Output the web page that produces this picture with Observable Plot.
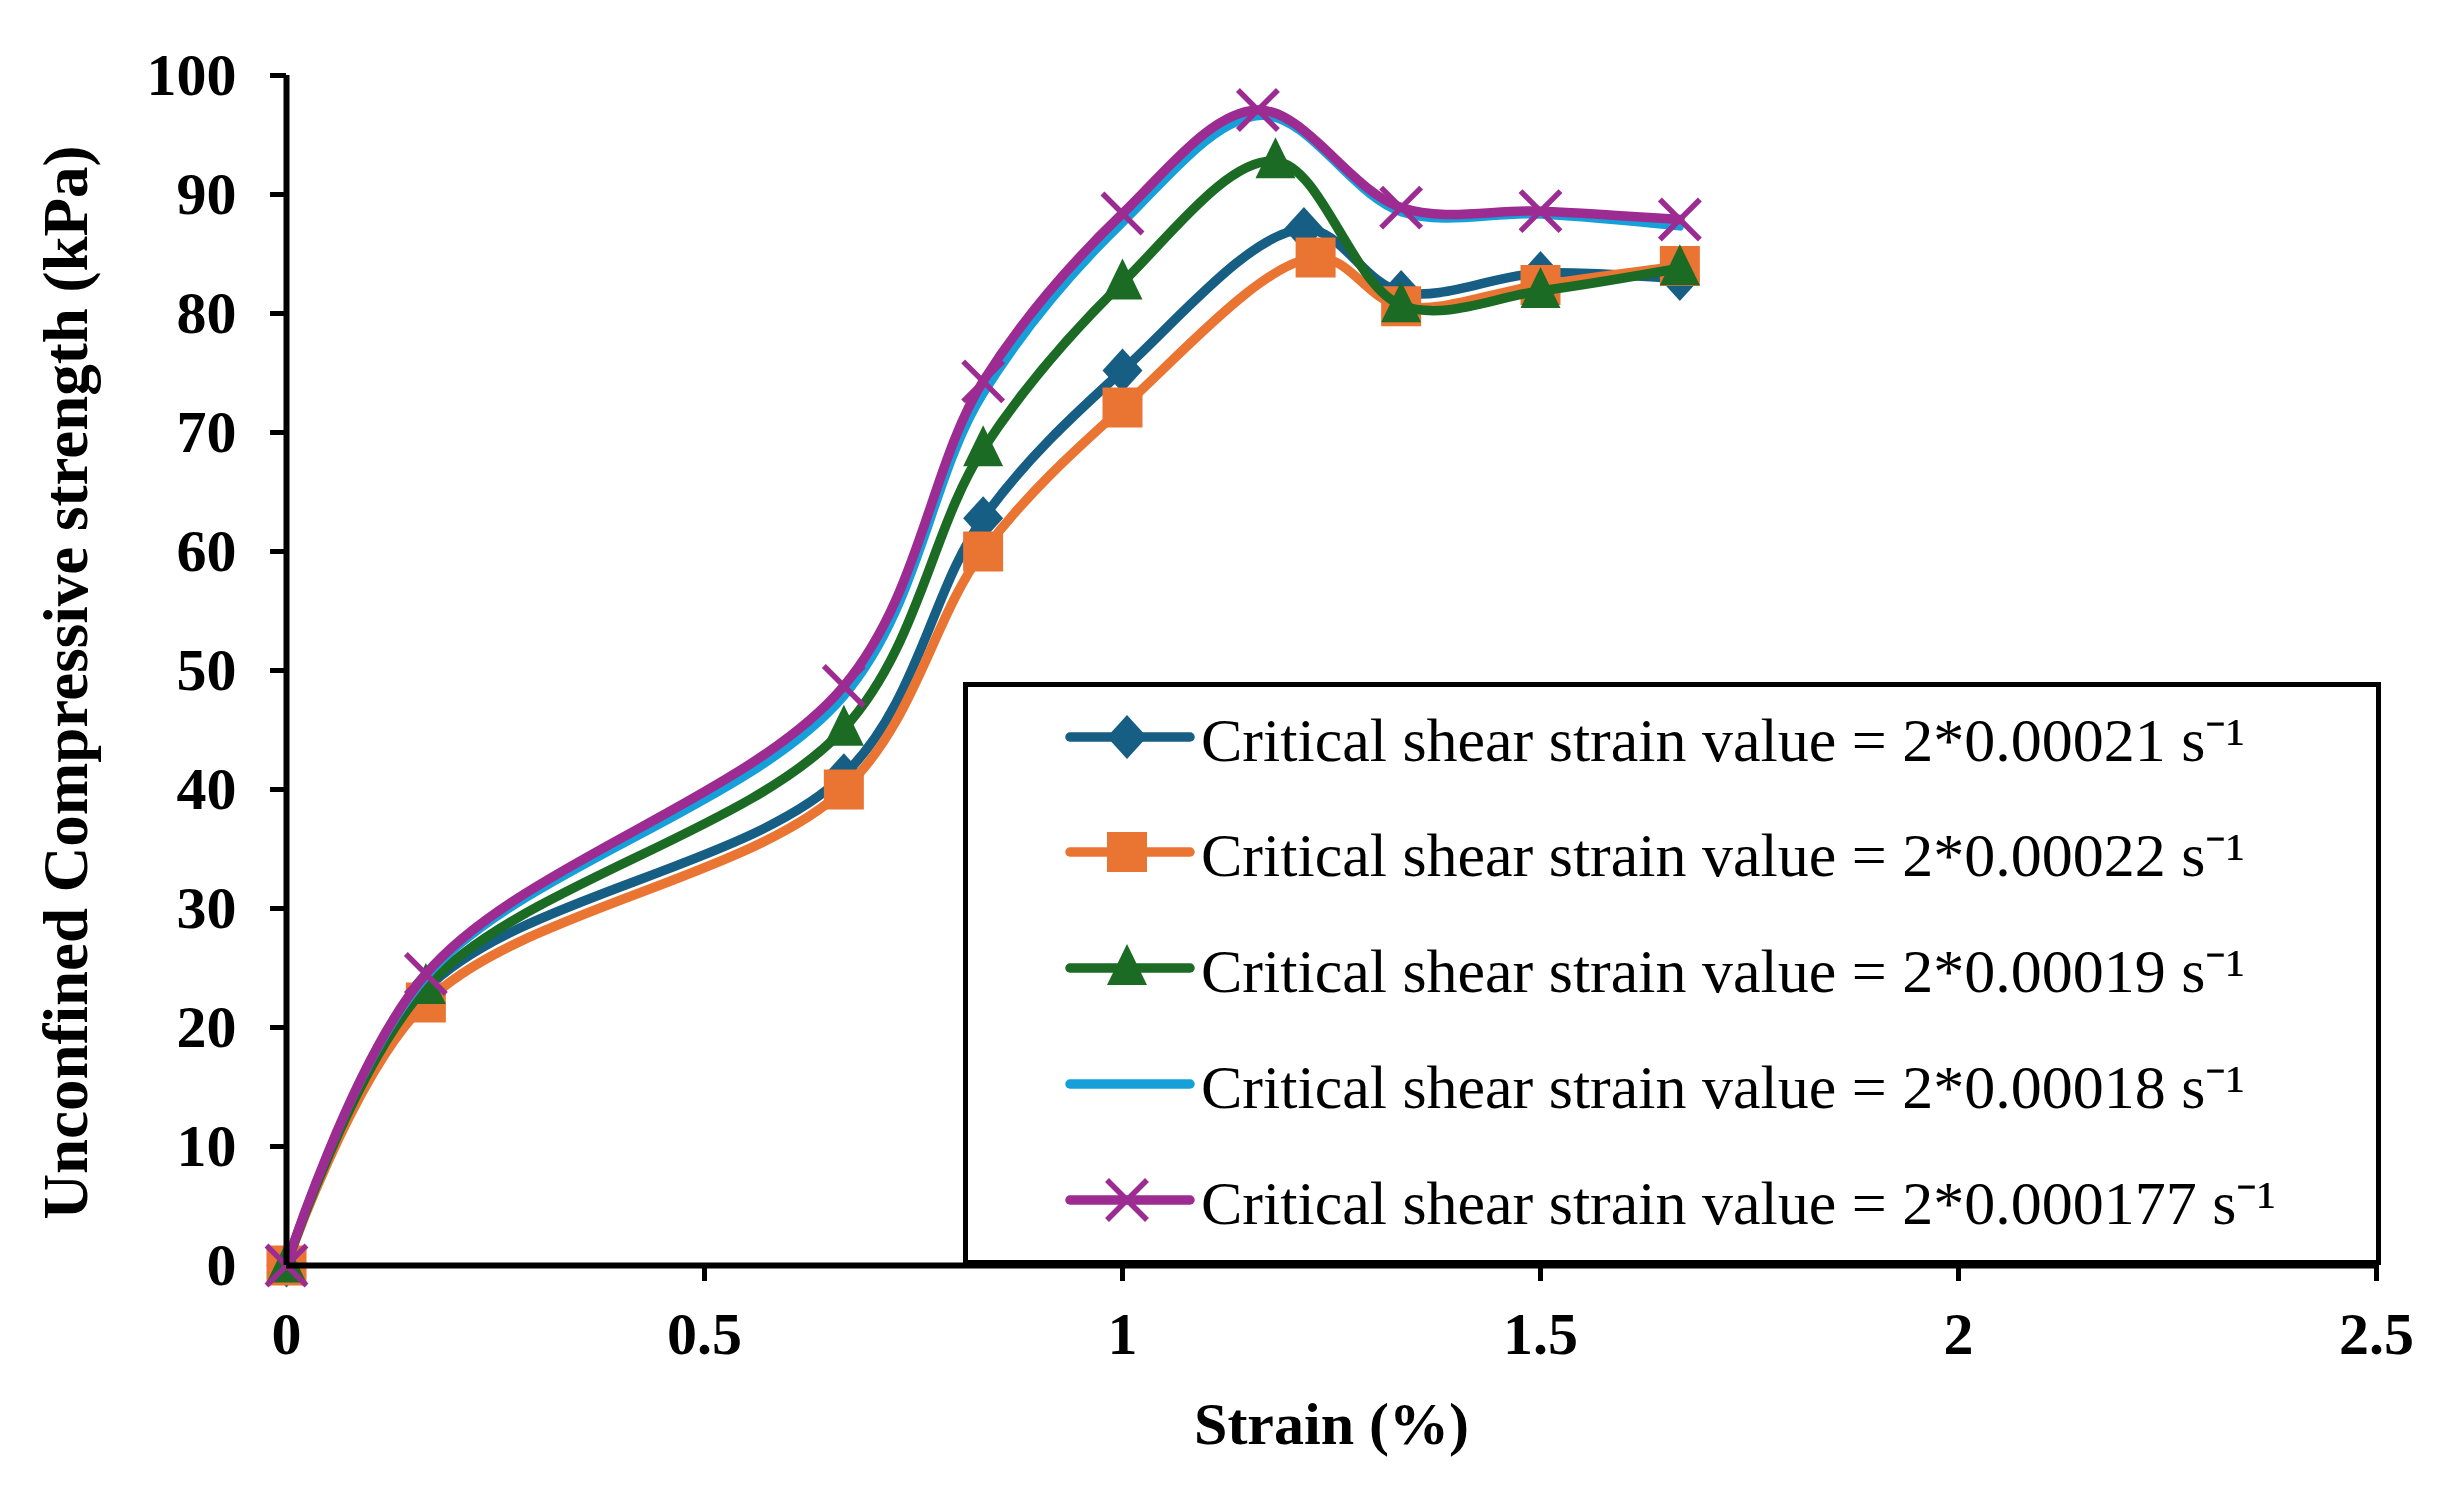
<!DOCTYPE html>
<html>
<head>
<meta charset="utf-8">
<script src="https://cdn.jsdelivr.net/npm/d3@7"></script>
<script src="https://cdn.jsdelivr.net/npm/@observablehq/plot@0.6"></script>
<style>
  body { margin: 0; background: #fff; }
  #wrap { position: relative; width: 2442px; height: 1493px; }
  #legend {
    position: absolute; left: 963px; top: 682px; width: 1408px; height: 573px;
    border: 5px solid #000; background: #fff;
    font-family: "Liberation Serif", "Times New Roman", serif; font-size: 62px;
  }
  .row { position: absolute; left: 0; height: 80px; display: flex; align-items: center; }
  .row svg { display: block; }
  .row span { margin-left: 6px; white-space: nowrap; }
</style>
</head>
<body>
<div id="wrap"><div id="chart"></div><div id="legend"></div></div>
<script>
// strain (%) at each reading, peak reading differs per series
const strainBase = [0, 0.1667, 0.6667, 0.8333, 1.0];
const strainTail = [1.3333, 1.5, 1.6667];
const peakStrain = [1.217, 1.231, 1.183, 1.167, 1.162];

const ucs1 = [0, 23.2, 41.2, 62.8, 75.2, 87.1, 81.8, 83.4, 82.9];
const ucs2 = [0, 22.1, 40.0, 60.0, 72.1, 84.7, 80.6, 82.4, 84.0];
const ucs3 = [0, 23.4, 45.1, 68.6, 82.6, 92.8, 80.7, 81.9, 83.8];
const ucs4 = [0, 24.2, 47.8, 73.2, 87.6, 96.6, 88.5, 88.3, 87.3];
const ucs5 = [0, 24.5, 48.7, 74.3, 88.4, 97.1, 88.9, 88.6, 87.9];

const seriesNames = [
  "Critical shear strain value = 2*0.00021 s\u207B\u00B9",
  "Critical shear strain value = 2*0.00022 s\u207B\u00B9",
  "Critical shear strain value = 2*0.00019 s\u207B\u00B9",
  "Critical shear strain value = 2*0.00018 s\u207B\u00B9",
  "Critical shear strain value = 2*0.000177 s\u207B\u00B9"
];
const seriesColors = ["#175e84", "#ea7533", "#1b6b24", "#16a0d9", "#9d2c92"];
const seriesMarkers = ["diamond", "square", "triangle", null, "times"];

const xTicks = [0, 0.5, 1, 1.5, 2, 2.5];
const yTicks = [0, 10, 20, 30, 40, 50, 60, 70, 80, 90, 100];

// marker shapes (r = radius given by Plot)
const rad = (size) => Math.sqrt(size / Math.PI);
const shapes = {
  diamond: { draw(c, size) { const r = rad(size); c.moveTo(0, -1.1 * r); c.lineTo(r, 0); c.lineTo(0, 1.1 * r); c.lineTo(-r, 0); c.closePath(); } },
  square: { draw(c, size) { const r = rad(size); c.rect(-r, -r, 2 * r, 2 * r); } },
  triangle: { draw(c, size) { const r = rad(size); c.moveTo(0, -1.2 * r); c.lineTo(r, 0.85 * r); c.lineTo(-r, 0.85 * r); c.closePath(); } },
  times: { draw(c, size) { const r = rad(size); c.moveTo(-r, -r); c.lineTo(r, r); c.moveTo(r, -r); c.lineTo(-r, r); } }
};
const markerR = 20;

const allUcs = [ucs1, ucs2, ucs3, ucs4, ucs5];
const series = allUcs.map((vals, i) => {
  const xs = [...strainBase, peakStrain[i], ...strainTail];
  return xs.map((x, j) => ({ x, y: vals[j], s: i }));
});

const marks = [];
series.forEach((pts, i) => {
  marks.push(Plot.line(pts, { x: "x", y: "y", stroke: seriesColors[i], strokeWidth: i === 3 ? 8 : 9.5, curve: "catmull-rom" }));
  const m = seriesMarkers[i];
  if (m === "times") {
    marks.push(Plot.dot(pts, { x: "x", y: "y", r: markerR, symbol: shapes.times, stroke: seriesColors[i], strokeWidth: 5.5, fill: "none" }));
  } else if (m) {
    marks.push(Plot.dot(pts, { x: "x", y: "y", r: markerR, symbol: shapes[m], fill: seriesColors[i], stroke: "none" }));
  }
});

const chart = Plot.plot({
  width: 2442,
  height: 1493,
  marginLeft: 286,
  marginRight: 66,
  marginTop: 75,
  marginBottom: 228,
  style: { fontFamily: "'Liberation Serif', 'Times New Roman', serif", fontWeight: "bold", fontSize: "60px", color: "#000", background: "#fff" },
  x: { domain: [0, 2.5] },
  y: { domain: [0, 100] },
  marks: [
    Plot.axisY({ ticks: yTicks, tickSize: 16, tickPadding: 34, strokeWidth: 5, tickFormat: d3.format("~g"), label: null, fontSize: 60 }),
    Plot.axisX({ ticks: xTicks, tickSize: 16, tickPadding: 30, strokeWidth: 5, tickFormat: d3.format("~g"), label: null, fontSize: 60 }),
    ...marks,
    Plot.ruleX([0], { y1: 0, y2: 100, strokeWidth: 6 }),
    Plot.ruleY([0], { x1: 0, x2: 2.5, strokeWidth: 6 }),
    Plot.text(["Strain (%)"], { frameAnchor: "bottom", dy: 178, fontSize: 60, fontWeight: "bold" }),
    Plot.text(["Unconfined Compressive strength (kPa)"], { frameAnchor: "left", dx: -220, dy: 12, rotate: -90, textAnchor: "middle", fontSize: 63, fontWeight: "bold" })
  ]
});
d3.select("#chart").append(() => chart);

// legend
const legend = d3.select("#legend");
const rowTops = [10, 125, 241, 357, 473];
seriesNames.forEach((name, i) => {
  const row = legend.append("div").attr("class", "row").style("top", rowTops[i] + "px").style("left", "97px");
  const svg = row.append("svg").attr("width", 130).attr("height", 80);
  svg.append("line").attr("x1", 5).attr("x2", 125).attr("y1", 40).attr("y2", 40)
    .attr("stroke", seriesColors[i]).attr("stroke-width", 9.5).attr("stroke-linecap", "round");
  const m = seriesMarkers[i];
  if (m) {
    const p = d3.path();
    shapes[m].draw(p, Math.PI * markerR * markerR);
    const el = svg.append("path").attr("d", p.toString()).attr("transform", "translate(62,40)");
    if (m === "times") el.attr("fill", "none").attr("stroke", seriesColors[i]).attr("stroke-width", 5.5);
    else el.attr("fill", seriesColors[i]);
  }
  row.append("span").text(name);
});
</script>
</body>
</html>
